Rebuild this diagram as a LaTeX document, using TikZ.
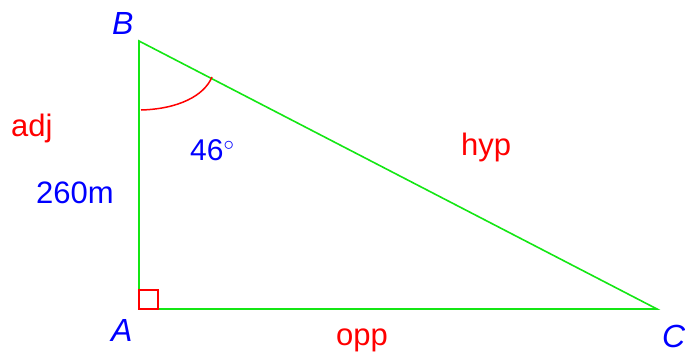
\documentclass[tikz,border=0pt]{standalone}
\usepackage{fontspec}
\setmainfont{Liberation Sans}
\definecolor{lgreen}{RGB}{20,230,20}
\definecolor{lred}{RGB}{255,0,0}
\definecolor{lblue}{RGB}{0,0,255}
\begin{document}
\begin{tikzpicture}[x=1pt,y=-1pt,
  side/.style={draw=lgreen,line width=1.6pt},
  redlbl/.style={text=lred,inner sep=0pt,anchor=base west,font=\fontsize{31}{31}\selectfont},
  bluelbl/.style={text=lblue,inner sep=0pt,anchor=base west,font=\fontsize{30}{30}\selectfont},
  vlbl/.style={text=lblue,inner sep=0pt,anchor=base west,font=\fontsize{32}{32}\selectfont\itshape}]
\useasboundingbox (0,0) rectangle (685,356);
\coordinate (A) at (139,309);
\coordinate (B) at (139,41);
\coordinate (C) at (657,309);
\draw[side] (B) -- (A) -- (C) -- cycle;
\draw[draw=lred,line width=1.5pt] (141,110) .. controls (178,109) and (204,96) .. (212,77);
\draw[draw=lred,line width=1.3pt] (139,309) rectangle (158,290);
\node[vlbl] (lB) at (112,34.7) {B};
\node[vlbl] (lA) at (111,341.7) {A};
\node[vlbl] (lC) at (662,347.7) {C};
\node[redlbl] (adj) at (11,136) {adj};
\node[redlbl] (hyp) at (461,155) {hyp};
\node[redlbl] (opp) at (336,345) {opp};
\node[bluelbl,font=\fontsize{31}{31}\selectfont] (len) at (36,203) {260m};
\node[bluelbl] (ang) at (190,160) {46$^{\circ}$};
\end{tikzpicture}
\end{document}
